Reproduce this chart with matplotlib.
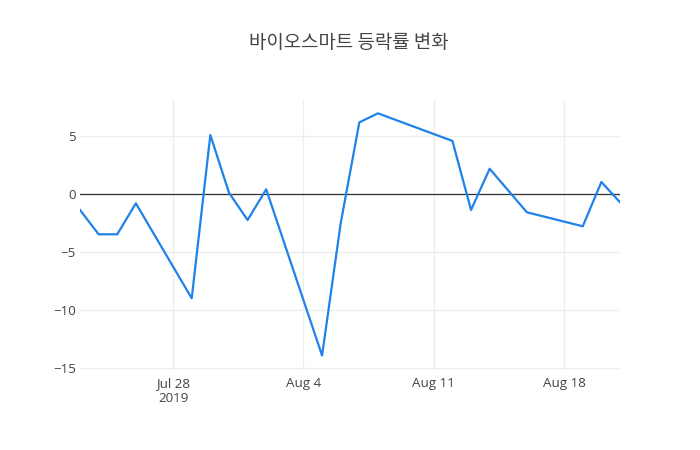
"""바이오스마트 등락률 변화 line chart"""

import matplotlib
matplotlib.use('Agg')
import matplotlib.pyplot as plt
import matplotlib.dates as mdates
import numpy as np
import pandas as pd

# Trading dates and daily change rate (%)
dates = ['2019-07-23', '2019-07-24', '2019-07-25', '2019-07-26', '2019-07-29',
         '2019-07-30', '2019-07-31', '2019-08-01', '2019-08-02', '2019-08-05',
         '2019-08-06', '2019-08-07', '2019-08-08', '2019-08-12', '2019-08-13',
         '2019-08-14', '2019-08-16', '2019-08-19', '2019-08-20', '2019-08-21']
change = [-1.35, -3.45, -3.45, -0.78, -8.97,
          5.11, 0.14, -2.22, 0.43, -13.9,
          -2.5, 6.2, 6.98, 4.6, -1.35,
          2.2, -1.55, -2.76, 1.06, -0.69]

y_ticks = [-15, -10, -5, 0, 5]
y_tick_labels = ['\u221215', '\u221210', '\u22125', '0', '5']
x_ticks = ['2019-07-28', '2019-08-04', '2019-08-11', '2019-08-18']
x_tick_labels = ['Jul 28\n2019', 'Aug 4', 'Aug 11', 'Aug 18']
title = '바이오스마트 등락률 변화'


def main():
    plt.rcParams['font.family'] = ['Open Sans', 'Noto Sans CJK KR', 'DejaVu Sans']
    x = pd.to_datetime(dates)

    fig = plt.figure(figsize=(7, 4.5), dpi=100)
    ax = fig.add_axes([80 / 700, 80 / 450, 540 / 700, 270 / 450])

    ax.plot(x, change, color='#1f82e8', linewidth=1.6, zorder=3)
    ax.axhline(0, color='#333333', linewidth=0.9, zorder=2)

    ax.set_xlim(x[0], x[-1])
    ax.set_ylim(-15.15, 8.13)

    ax.set_yticks(y_ticks)
    ax.set_yticklabels(y_tick_labels)
    ax.set_xticks(pd.to_datetime(x_ticks))
    ax.set_xticklabels(x_tick_labels, linespacing=1.2)

    ax.grid(True, color='#eeeeee', linewidth=1.0, zorder=0)
    for side in ax.spines.values():
        side.set_visible(False)
    ax.tick_params(axis='both', length=0, labelsize=9.6, colors='#444444')
    ax.tick_params(axis='x', pad=5)
    ax.tick_params(axis='y', pad=3)

    fig.text(349 / 700, 1 - 43 / 450, title, ha='center', va='center',
             fontsize=13.6, color='#444444',
             family=['Noto Sans CJK KR', 'DejaVu Sans'])

    fig.savefig('out.png', dpi=100)


if __name__ == '__main__':
    main()
